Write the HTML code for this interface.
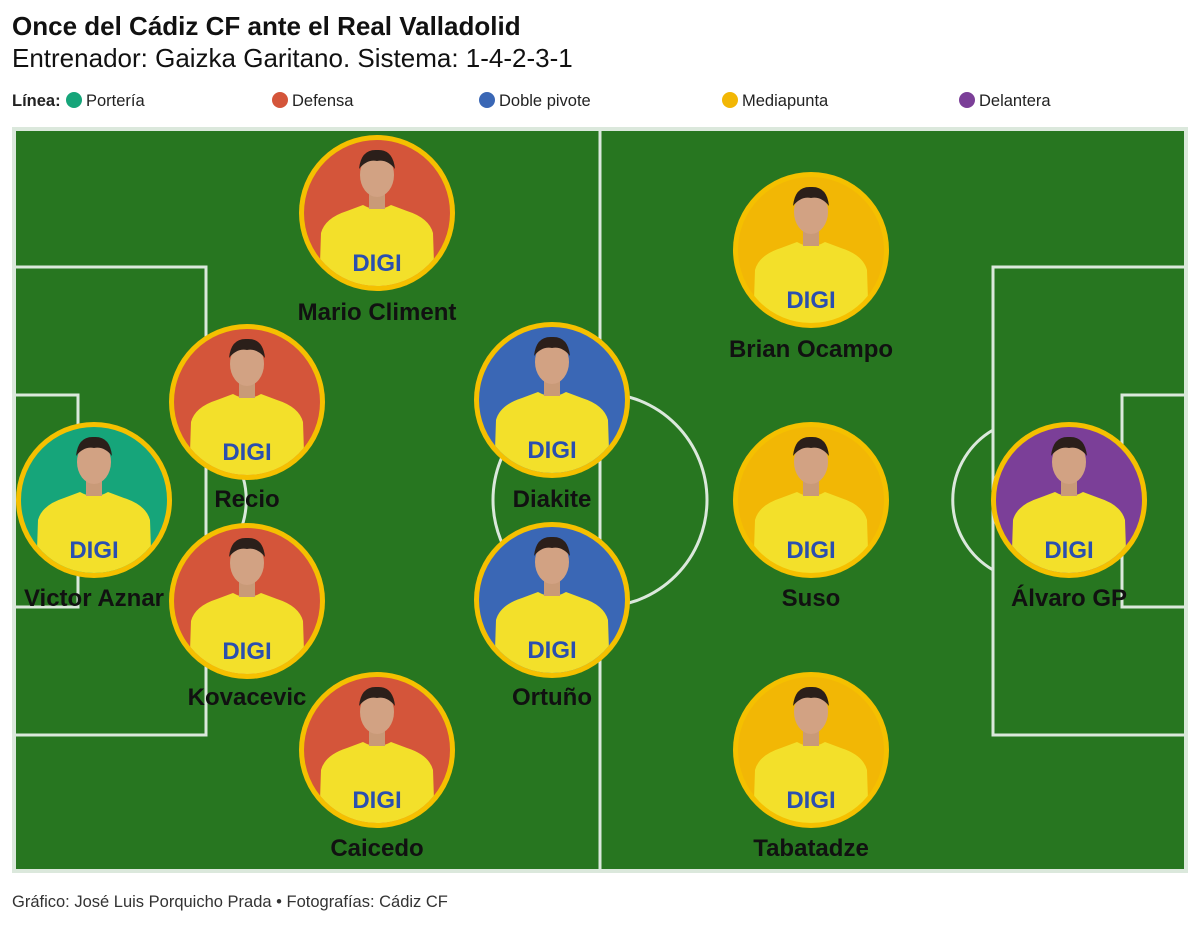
<!DOCTYPE html>
<html><head><meta charset="utf-8"><style>
body{margin:0;background:#fff;width:1200px;height:924px;overflow:hidden;font-family:"Liberation Sans",sans-serif}
</style></head><body>
<svg width="1200" height="924" viewBox="0 0 1200 924" xmlns="http://www.w3.org/2000/svg" font-family="Liberation Sans, sans-serif">
<defs>
<clipPath id="cc"><circle cx="0" cy="0" r="73"/></clipPath>
<g id="pl">
 <g clip-path="url(#cc)">
  <path d="M-58 80 L-56 20 Q-52 5 -30 -2 L-14 -8 Q0 0 14 -8 L30 -2 Q52 5 56 20 L58 80 Z" fill="#f3e02a"/>
  <rect x="-8" y="-20" width="16" height="16" fill="#c99a78"/>
  <ellipse cx="0" cy="-38" rx="17" ry="22" fill="#d2a283"/>
  <path d="M-18 -44 Q-16 -64 0 -63 Q16 -64 18 -44 Q10 -54 0 -52 Q-10 -54 -18 -44Z" fill="#2b1f1a"/>
  <text x="0" y="58" text-anchor="middle" font-size="24" font-weight="bold" fill="#2a4fb0">DIGI</text>
 </g>
</g>
</defs>
<text x="12" y="35" font-size="26" font-weight="bold" fill="#111">Once del Cádiz CF ante el Real Valladolid</text>
<text x="12" y="67" font-size="26" fill="#111">Entrenador: Gaizka Garitano. Sistema: 1-4-2-3-1</text>
<g font-size="16.5" fill="#222">
<text x="12" y="106" font-weight="bold">Línea:</text>
<circle cx="74" cy="100" r="8" fill="#16a57a"/><text x="86" y="106">Portería</text>
<circle cx="280" cy="100" r="8" fill="#d4553a"/><text x="292" y="106">Defensa</text>
<circle cx="487" cy="100" r="8" fill="#3a67b5"/><text x="499" y="106">Doble pivote</text>
<circle cx="730" cy="100" r="8" fill="#f2b705"/><text x="742" y="106">Mediapunta</text>
<circle cx="967" cy="100" r="8" fill="#7b3f98"/><text x="979" y="106">Delantera</text>
</g>
<rect x="12" y="127" width="1176" height="746" fill="#dbe8dc"/>
<rect x="16" y="131" width="1168" height="738" fill="#277620"/>
<g stroke="#dbe8dc" stroke-width="3" fill="none">
<line x1="600" y1="131" x2="600" y2="869"/>
<circle cx="600" cy="500" r="107"/>
<polyline points="16,267 206,267 206,735 16,735"/>
<polyline points="16,395 78,395 78,607 16,607"/>
<path d="M206 430 A81 81 0 0 1 206 570"/>
<polyline points="1184,267 993,267 993,735 1184,735"/>
<polyline points="1184,395 1122,395 1122,607 1184,607"/>
<path d="M993 430 A81 81 0 0 0 993 570"/>
</g>
<g font-size="24" font-weight="bold" fill="#111" text-anchor="middle">
<g transform="translate(377,213)"><circle r="78" fill="#f5c000"/><circle r="73" fill="#d4553a"/><use href="#pl"/></g><text x="377" y="320">Mario Climent</text>
<g transform="translate(247,402)"><circle r="78" fill="#f5c000"/><circle r="73" fill="#d4553a"/><use href="#pl"/></g><text x="247" y="507">Recio</text>
<g transform="translate(94,500)"><circle r="78" fill="#f5c000"/><circle r="73" fill="#16a57a"/><use href="#pl"/></g><text x="94" y="606">Victor Aznar</text>
<g transform="translate(247,601)"><circle r="78" fill="#f5c000"/><circle r="73" fill="#d4553a"/><use href="#pl"/></g><text x="247" y="705">Kovacevic</text>
<g transform="translate(377,750)"><circle r="78" fill="#f5c000"/><circle r="73" fill="#d4553a"/><use href="#pl"/></g><text x="377" y="856">Caicedo</text>
<g transform="translate(552,400)"><circle r="78" fill="#f5c000"/><circle r="73" fill="#3a67b5"/><use href="#pl"/></g><text x="552" y="507">Diakite</text>
<g transform="translate(552,600)"><circle r="78" fill="#f5c000"/><circle r="73" fill="#3a67b5"/><use href="#pl"/></g><text x="552" y="705">Ortuño</text>
<g transform="translate(811,250)"><circle r="78" fill="#f5c000"/><circle r="73" fill="#f2b705"/><use href="#pl"/></g><text x="811" y="357">Brian Ocampo</text>
<g transform="translate(811,500)"><circle r="78" fill="#f5c000"/><circle r="73" fill="#f2b705"/><use href="#pl"/></g><text x="811" y="606">Suso</text>
<g transform="translate(811,750)"><circle r="78" fill="#f5c000"/><circle r="73" fill="#f2b705"/><use href="#pl"/></g><text x="811" y="856">Tabatadze</text>
<g transform="translate(1069,500)"><circle r="78" fill="#f5c000"/><circle r="73" fill="#7b3f98"/><use href="#pl"/></g><text x="1069" y="606">Álvaro GP</text>
</g>
<text x="12" y="907" font-size="16.5" fill="#333">Gráfico: José Luis Porquicho Prada • Fotografías: Cádiz CF</text>
</svg>
</body></html>
